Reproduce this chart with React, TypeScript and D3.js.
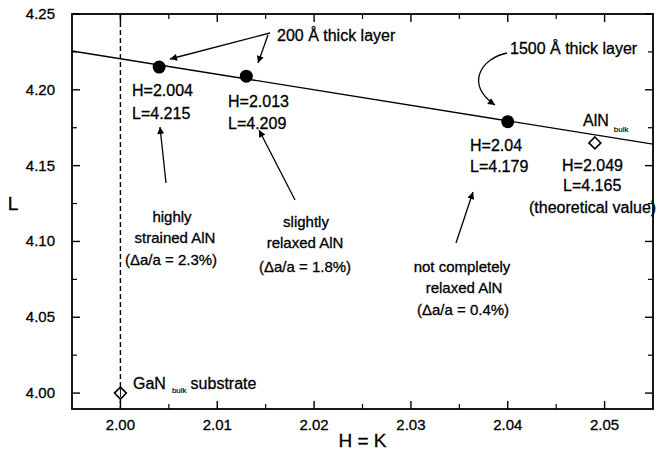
import React from "react";
import * as d3 from "d3";

const layerH = [2.004, 2.013, 2.04];
const layerL = [4.215, 4.209, 4.179];
const layerLabels = [
  ["H=2.004", "L=4.215"],
  ["H=2.013", "L=4.209"],
  ["H=2.04", "L=4.179"],
];
const bulkH = [2.049, 2.0];
const bulkL = [4.165, 4.0];
const fitH = [1.995, 2.055];
const fitL = [4.2256, 4.1642];
const xTicks = [2.0, 2.01, 2.02, 2.03, 2.04, 2.05];
const xMinor = [2.005, 2.015, 2.025, 2.035, 2.045];
const yTicks = [4.0, 4.05, 4.1, 4.15, 4.2, 4.25];
const yMinor = [4.025, 4.075, 4.125, 4.175, 4.225];
const substrateH = 2.0;

const W = 659;
const H = 454;
const left = 72, right = 653, top = 14, bottom = 409;
const FONT = "'Liberation Sans', Arial, Helvetica, sans-serif";

export default function App() {
  const x = d3.scaleLinear().domain([1.995, 2.055]).range([left, right]);
  const y = d3.scaleLinear().domain([3.9895, 4.25]).range([bottom, top]);
  const line = d3
    .line<number>()
    .x((_, i) => x(fitH[i]))
    .y((d) => y(d));
  const diamond = d3.symbol().type(d3.symbolDiamond2).size(90)();

  const txt = (props: any, children: any) => (
    <text fontFamily={FONT} fill="#000" stroke="#000" strokeWidth={0.3} {...props}>
      {children}
    </text>
  );

  return (
    <svg
      width={W}
      height={H}
      style={{ position: "fixed", left: 0, top: 0, background: "#fff" }}
    >
      <defs>
        <marker
          id="ah"
          viewBox="0 0 10 10"
          refX="10"
          refY="5"
          markerWidth="9"
          markerHeight="7"
          markerUnits="userSpaceOnUse"
          orient="auto"
        >
          <path d="M0,0 L10,5 L0,10 z" fill="#000" />
        </marker>
      </defs>
      <clipPath id="plot">
        <rect x={left} y={top} width={right - left} height={bottom - top} />
      </clipPath>

      {/* dashed substrate line */}
      <line
        x1={x(substrateH)}
        x2={x(substrateH)}
        y1={top}
        y2={bottom}
        stroke="#000"
        strokeWidth={1.4}
        strokeDasharray="5,3"
      />

      {/* fit line */}
      <path
        d={line(fitL) || ""}
        fill="none"
        stroke="#000"
        strokeWidth={1.4}
        clipPath="url(#plot)"
      />

      {/* ticks */}
      {xTicks.map((t) => (
        <g key={"xt" + t}>
          <line x1={x(t)} x2={x(t)} y1={bottom} y2={bottom - 8} stroke="#000" strokeWidth={1.4} />
          <line x1={x(t)} x2={x(t)} y1={top} y2={top + 8} stroke="#000" strokeWidth={1.4} />
          {txt(
            { x: x(t), y: bottom + 21, textAnchor: "middle", fontSize: 15 },
            d3.format(".2f")(t)
          )}
        </g>
      ))}
      {xMinor.map((t) => (
        <g key={"xm" + t}>
          <line x1={x(t)} x2={x(t)} y1={bottom} y2={bottom - 5} stroke="#000" strokeWidth={1.2} />
          <line x1={x(t)} x2={x(t)} y1={top} y2={top + 5} stroke="#000" strokeWidth={1.2} />
        </g>
      ))}
      {yTicks.map((t) => (
        <g key={"yt" + t}>
          <line x1={left} x2={left + 8} y1={y(t)} y2={y(t)} stroke="#000" strokeWidth={1.4} />
          <line x1={right} x2={right - 8} y1={y(t)} y2={y(t)} stroke="#000" strokeWidth={1.4} />
          {txt(
            { x: left - 17, y: y(t) + 5, textAnchor: "end", fontSize: 15 },
            d3.format(".2f")(t)
          )}
        </g>
      ))}
      {yMinor.map((t) => (
        <g key={"ym" + t}>
          <line x1={left} x2={left + 5} y1={y(t)} y2={y(t)} stroke="#000" strokeWidth={1.2} />
          <line x1={right} x2={right - 5} y1={y(t)} y2={y(t)} stroke="#000" strokeWidth={1.2} />
        </g>
      ))}

      {/* frame */}
      <rect
        x={left}
        y={top}
        width={right - left}
        height={bottom - top}
        fill="none"
        stroke="#000"
        strokeWidth={1.8}
      />

      {/* points */}
      {layerH.map((h, i) => (
        <circle key={"p" + i} cx={x(h)} cy={y(layerL[i])} r={6.5} fill="#000" />
      ))}
      {bulkH.map((h, i) => (
        <path
          key={"d" + i}
          d={diamond || ""}
          transform={`translate(${x(h)},${y(bulkL[i])})`}
          fill="#fff"
          stroke="#000"
          strokeWidth={1.6}
        />
      ))}
      <line
        x1={x(substrateH)}
        x2={x(substrateH)}
        y1={y(4.0) - 5}
        y2={y(4.0) + 4}
        stroke="#000"
        strokeWidth={1}
      />

      {/* point labels */}
      {txt({ x: 132, y: 96, fontSize: 16 }, layerLabels[0][0])}
      {txt({ x: 132, y: 119, fontSize: 16 }, layerLabels[0][1])}
      {txt({ x: 228, y: 107, fontSize: 16 }, layerLabels[1][0])}
      {txt({ x: 228, y: 129, fontSize: 16 }, layerLabels[1][1])}
      {txt({ x: 470, y: 151, fontSize: 16 }, layerLabels[2][0])}
      {txt({ x: 470, y: 172, fontSize: 16 }, layerLabels[2][1])}
      {txt({ x: 562, y: 171, fontSize: 16 }, "H=2.049")}
      {txt({ x: 563, y: 191, fontSize: 16 }, "L=4.165")}
      {txt({ x: 529, y: 213, fontSize: 16 }, "(theoretical value)")}
      <text x={583} y={126} fontFamily={FONT} fontSize={16} stroke="#000" strokeWidth={0.3}>
        AlN
        <tspan fontSize={8} dx={5} dy={6} strokeWidth={0.15}>bulk</tspan>
      </text>

      {/* layer titles */}
      {txt({ x: 277, y: 41, fontSize: 16 }, "200 Å thick layer")}
      {txt({ x: 510, y: 54, fontSize: 16 }, "1500 Å thick layer")}
      <line x1={270} y1={33} x2={170} y2={59} stroke="#000" strokeWidth={1.3} markerEnd="url(#ah)" />
      <line x1={268} y1={35} x2={258} y2={63} stroke="#000" strokeWidth={1.3} markerEnd="url(#ah)" />
      <path
        d="M507,53 C482,58 464,84 495,105"
        fill="none"
        stroke="#000"
        strokeWidth={1.3}
        markerEnd="url(#ah)"
      />

      {/* annotations */}
      {txt({ x: 172, y: 222, fontSize: 15, textAnchor: "middle" }, "highly")}
      {txt({ x: 175, y: 243, fontSize: 15, textAnchor: "middle" }, "strained AlN")}
      {txt({ x: 171, y: 265, fontSize: 15, textAnchor: "middle" }, "(Δa/a = 2.3%)")}
      <line x1={166} y1={183} x2={160} y2={127} stroke="#000" strokeWidth={1.3} markerEnd="url(#ah)" />

      {txt({ x: 306, y: 227, fontSize: 15, textAnchor: "middle" }, "slightly")}
      {txt({ x: 305, y: 248, fontSize: 15, textAnchor: "middle" }, "relaxed AlN")}
      {txt({ x: 305, y: 272, fontSize: 15, textAnchor: "middle" }, "(Δa/a = 1.8%)")}
      <line x1={295} y1={200} x2={259} y2={130} stroke="#000" strokeWidth={1.3} markerEnd="url(#ah)" />

      {txt({ x: 462, y: 272, fontSize: 15, textAnchor: "middle" }, "not completely")}
      {txt({ x: 464, y: 293, fontSize: 15, textAnchor: "middle" }, "relaxed AlN")}
      {txt({ x: 463, y: 315, fontSize: 15, textAnchor: "middle" }, "(Δa/a = 0.4%)")}
      <line x1={456} y1={243} x2={473} y2={192} stroke="#000" strokeWidth={1.3} markerEnd="url(#ah)" />

      <text x={133} y={389} fontFamily={FONT} fontSize={16} stroke="#000" strokeWidth={0.3}>
        GaN
        <tspan fontSize={8} dx={6} dy={4} strokeWidth={0.15}>bulk</tspan>
        <tspan fontSize={16} dx={4} dy={-4}>substrate</tspan>
      </text>

      {/* axis titles */}
      {txt({ x: 13, y: 210, fontSize: 19, textAnchor: "middle" }, "L")}
      {txt({ x: (left + right) / 2, y: 447, fontSize: 19, textAnchor: "middle" }, "H = K")}
    </svg>
  );
}
